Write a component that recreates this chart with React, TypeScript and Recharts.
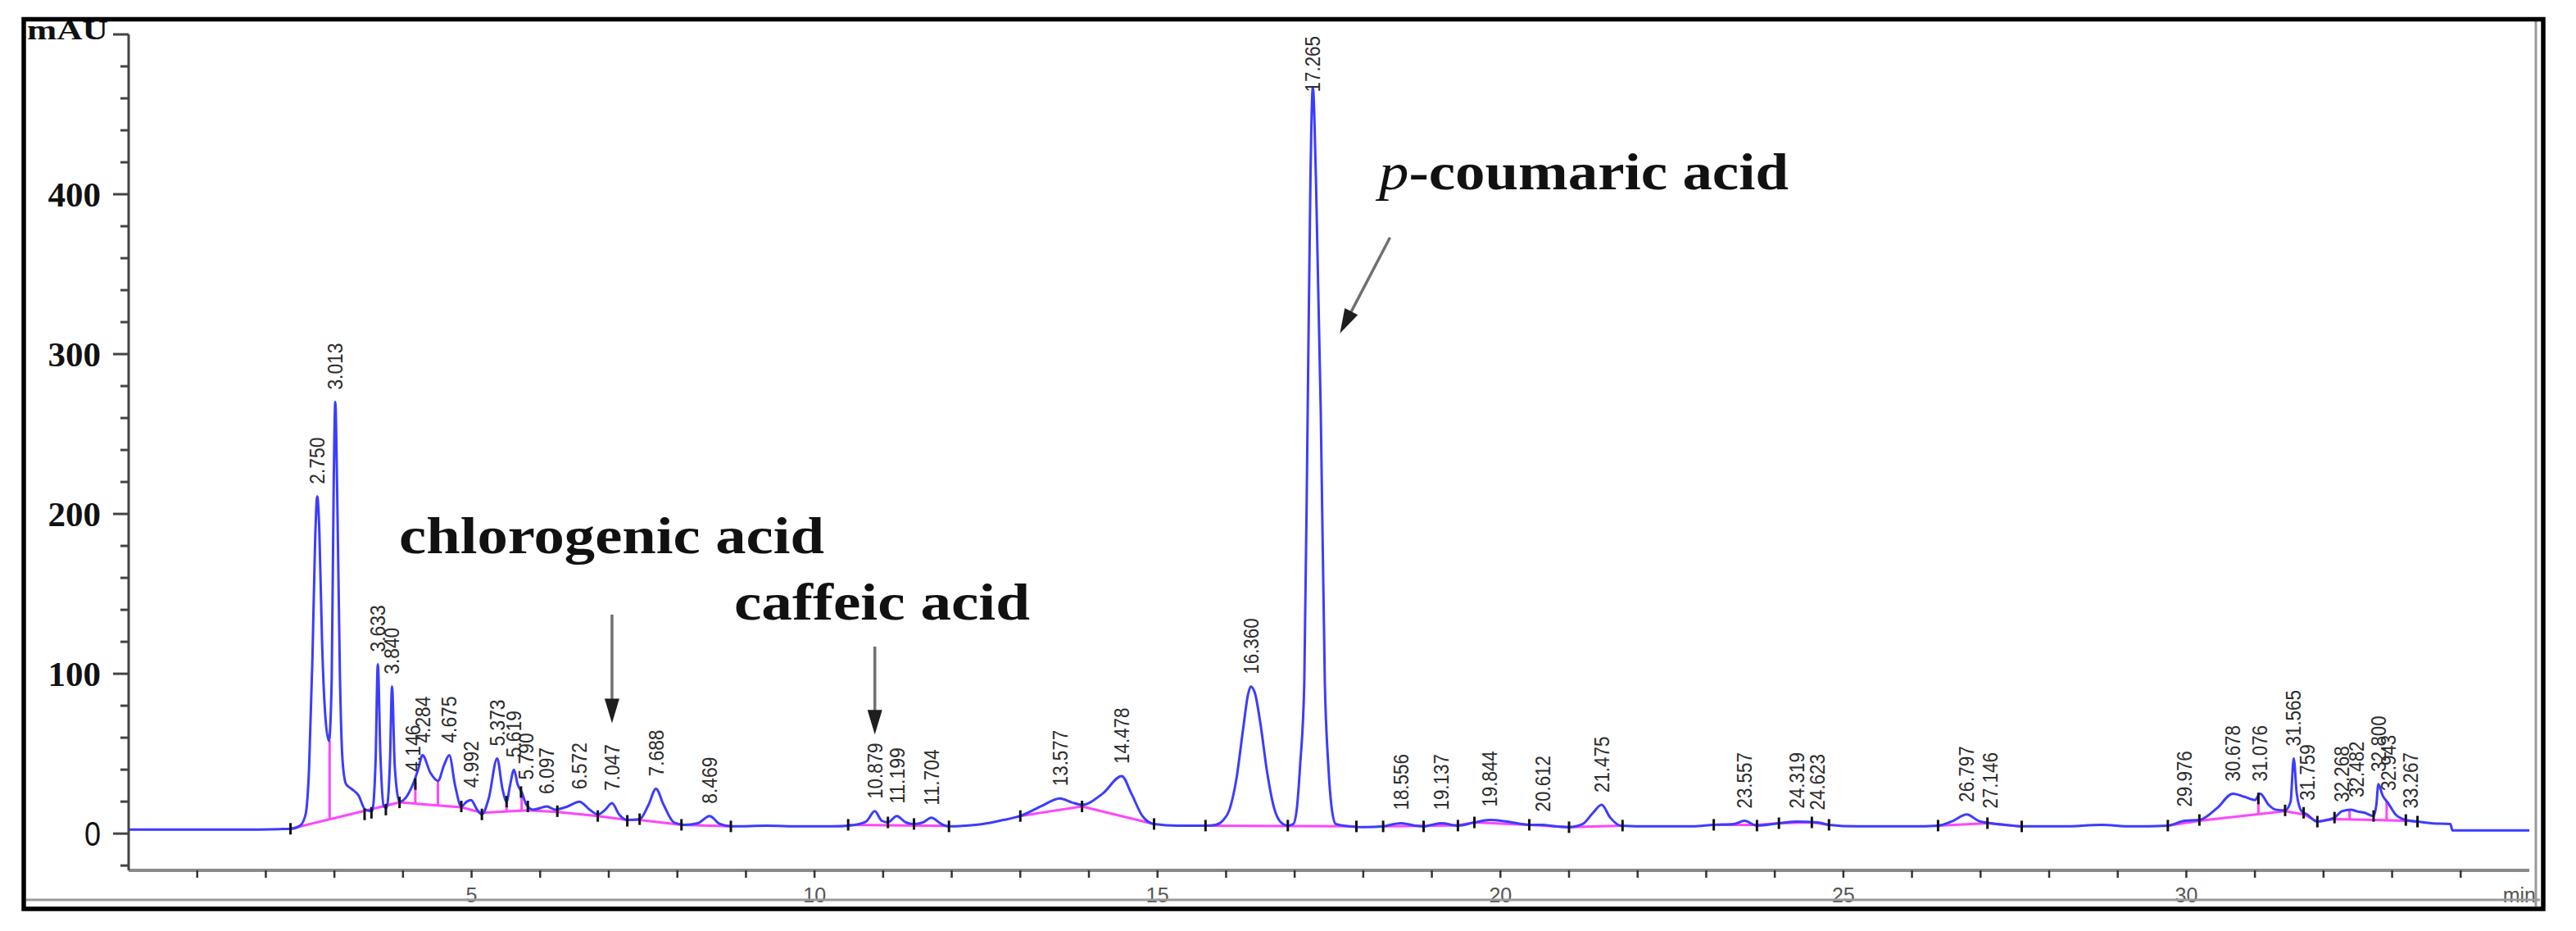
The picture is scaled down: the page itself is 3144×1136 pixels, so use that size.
import React from 'react';
import {
  ComposedChart, Line, Scatter, XAxis, YAxis, ReferenceLine,
} from 'recharts';

// ---- Data (retention time in min, absorbance in mAU) ----
const signalPoints: [number, number][] = [
  [0, 2.5], [0.8, 2.5], [1.6, 2.5], [2.2, 2.8], [2.36, 3], [2.5, 5], [2.58, 12], [2.63, 40], [2.68, 110],
  [2.72, 185], [2.75, 211], [2.78, 190], [2.82, 120], [2.87, 72], [2.92, 58], [2.96, 95], [2.99, 220],
  [3.013, 270], [3.04, 215], [3.08, 100], [3.12, 45], [3.17, 31], [3.25, 28], [3.35, 24], [3.45, 15],
  [3.55, 14], [3.6, 45], [3.633, 106], [3.67, 50], [3.72, 17], [3.76, 16], [3.81, 45], [3.84, 92],
  [3.88, 42], [3.95, 20], [4.05, 23], [4.146, 31], [4.22, 40], [4.284, 49], [4.4, 38], [4.51, 33],
  [4.6, 43], [4.675, 49], [4.76, 30], [4.85, 17], [4.93, 20], [4.992, 21], [5.08, 15], [5.15, 12],
  [5.25, 22], [5.373, 47], [5.45, 28], [5.51, 20], [5.56, 30], [5.619, 40], [5.67, 31], [5.73, 26],
  [5.8, 18], [5.9, 15], [6.0, 16], [6.097, 17], [6.22, 15], [6.4, 17], [6.572, 20], [6.72, 15],
  [6.84, 12], [6.95, 15], [7.047, 19], [7.15, 12], [7.27, 8.5], [7.45, 9], [7.58, 18], [7.688, 28],
  [7.8, 18], [7.95, 7], [8.1, 5.5], [8.3, 6.5], [8.469, 11], [8.62, 6], [8.8, 4.5], [9.3, 5],
  [9.8, 4.5], [10.2, 4.5], [10.5, 5], [10.75, 7.5], [10.879, 14], [10.98, 8], [11.07, 7], [11.199, 11],
  [11.33, 7], [11.45, 6], [11.58, 7], [11.704, 10], [11.85, 6], [11.96, 4.5], [12.2, 5], [12.45, 6],
  [12.75, 8.5], [13.0, 11], [13.3, 17], [13.577, 22], [13.75, 19.5], [13.9, 18], [14.2, 25],
  [14.478, 36], [14.62, 25], [14.78, 11], [14.95, 6], [15.3, 5], [15.7, 5], [15.85, 5.5], [15.95, 8],
  [16.05, 15], [16.15, 34], [16.25, 66], [16.32, 87], [16.36, 92], [16.42, 88], [16.5, 69], [16.6, 38],
  [16.7, 16], [16.8, 7], [16.9, 5], [16.98, 6], [17.03, 15], [17.08, 43], [17.14, 94], [17.19, 265],
  [17.23, 410], [17.265, 467], [17.31, 410], [17.38, 265], [17.44, 94], [17.49, 43], [17.54, 16],
  [17.6, 6], [17.8, 4.5], [18.0, 4], [18.3, 4.5], [18.45, 6], [18.556, 6.5], [18.75, 5], [18.88, 4.5],
  [19.0, 5.5], [19.137, 6.5], [19.38, 5], [19.62, 7], [19.844, 8.5], [20.1, 7.5], [20.42, 5.5],
  [20.612, 5.5], [20.8, 4.5], [21.0, 4], [21.2, 6], [21.35, 13], [21.475, 18], [21.6, 10], [21.75, 5],
  [22.2, 4.5], [22.8, 4.5], [23.11, 5.5], [23.4, 6], [23.557, 8], [23.74, 5], [24.06, 6.5],
  [24.319, 7.5], [24.623, 7], [24.79, 5.5], [25.2, 4.5], [26.0, 4.5], [26.38, 5], [26.6, 8],
  [26.797, 12], [26.97, 8], [27.146, 6.5], [27.35, 5.5], [27.6, 4.5], [28.2, 4.5], [28.76, 5.5],
  [29.2, 4.5], [29.73, 5], [29.976, 8], [30.19, 8.5], [30.45, 16], [30.678, 25], [30.85, 23], [31.0, 21],
  [31.076, 25], [31.2, 18], [31.3, 15], [31.44, 14.5], [31.52, 20], [31.565, 47], [31.61, 25],
  [31.68, 14], [31.759, 12], [31.91, 7.5], [32.05, 8.5], [32.16, 10], [32.268, 14], [32.4, 15],
  [32.482, 14], [32.6, 13], [32.73, 11], [32.77, 18], [32.8, 31], [32.86, 24], [32.943, 19],
  [33.05, 12], [33.2, 8.5], [33.267, 8], [33.37, 7.5], [33.57, 6.5], [33.85, 6], [33.88, 2], [35, 2],
];

const baselineSegments: [number, number][][] = [
  [[2.36, 3], [3.95, 19.5], [4.85, 16.5], [5.15, 13], [5.82, 14.5], [6.25, 13.5], [6.84, 11], [7.27, 8.5], [7.45, 8.5], [8.06, 5.5], [8.78, 4.5]],
  [[10.49, 5.5], [11.96, 4.8]],
  [[13.0, 11], [13.9, 17], [14.95, 6]],
  [[15.7, 5], [17.9, 4.5]],
  [[18.29, 4.5], [18.88, 4.8], [19.38, 5.2], [19.62, 7], [20.42, 5.5], [21.0, 4], [21.78, 5]],
  [[23.11, 5.5], [23.74, 5.5], [24.06, 6.5], [24.54, 7], [24.79, 5.5]],
  [[26.38, 5], [27.1, 6.5], [27.6, 4.5]],
  [[29.73, 5], [30.19, 8], [31.44, 14], [31.71, 12], [31.91, 7.5], [32.16, 9], [32.73, 8.5], [33.2, 8], [33.37, 7.5]],
];

const dropLines: [number, number, number][] = [
  [2.93, 9, 58], [4.18, 19, 32], [4.51, 18, 33], [5.51, 14, 20], [5.73, 14, 26],
  [31.05, 12, 22], [32.38, 8.8, 15], [32.92, 8.3, 20],
];

const integrationTicks: [number, number][] = [
  [2.36, 3], [3.44, 12], [3.54, 13], [3.75, 15], [3.95, 19.5], [4.18, 31], [4.85, 17], [5.15, 12],
  [5.51, 20], [5.72, 26], [5.82, 17], [6.25, 14], [6.84, 11], [7.27, 8], [7.45, 9], [8.06, 5.5],
  [8.78, 4.5], [10.49, 5.5], [11.07, 7], [11.45, 6], [11.96, 4.5], [13.0, 11], [13.9, 17], [14.95, 6],
  [15.7, 5], [16.9, 5], [17.9, 4.5], [18.29, 4.5], [18.88, 4.5], [19.38, 5], [19.62, 7], [20.42, 5.5],
  [21.0, 4], [21.78, 5], [23.11, 5.5], [23.74, 5], [24.06, 6.5], [24.54, 7], [24.79, 5.5], [26.38, 5],
  [27.1, 6.5], [27.6, 4.5], [29.73, 5], [30.19, 8.5], [31.05, 22], [31.44, 14.5], [31.71, 13],
  [31.91, 7.5], [32.16, 10], [32.73, 11], [33.2, 8.5], [33.37, 7.5],
];

const peakLabels: string[] = [
  '2.750', '3.013', '3.633', '3.840', '4.146', '4.284', '4.675', '4.992', '5.373', '5.619', '5.790',
  '6.097', '6.572', '7.047', '7.688', '8.469', '10.879', '11.199', '11.704', '13.577', '14.478',
  '16.360', '17.265', '18.556', '19.137', '19.844', '20.612', '21.475', '23.557', '24.319', '24.623',
  '26.797', '27.146', '29.976', '30.678', '31.076', '31.565', '31.759', '32.268', '32.482', '32.800',
  '32.943', '33.267',
];
const peakHeights: number[] = [
  211, 270, 106, 92, 31, 49, 49, 21, 47, 40, 26,
  17, 20, 19, 28, 11, 14, 11, 10, 22, 36,
  92, 467, 7, 7, 9, 6, 18, 8, 8, 7,
  12, 8, 9, 25, 25, 47, 13, 12, 15, 31,
  19, 8,
];

// arrows: [tStart, vStart, tTip, vTip]
const arrows: [number, number, number, number][] = [
  [7.047, 137, 7.047, 69],
  [10.879, 117, 10.879, 62],
  [18.39, 373, 17.66, 313],
];

const yTicks: number[] = [-20, 0, 20, 40, 60, 80, 100, 120, 140, 160, 180, 200, 220, 240, 260, 280, 300, 320, 340, 360, 380, 400, 420, 440, 460, 480, 500];
const xTicks: number[] = Array.from({ length: 35 }, (_, i) => i + 1);

// ---- Derived tables for the library ----
const signalData = signalPoints.map(([t, v]) => ({ t, v }));
const baselineData: { t: number; v: number | null }[] = [];
baselineSegments.forEach((seg, i) => {
  if (i > 0) baselineData.push({ t: seg[0][0] - 0.001, v: null });
  seg.forEach(([t, v]) => baselineData.push({ t, v }));
});
const tickData = integrationTicks.map(([t, v]) => ({ t, v }));
const peakData = peakLabels.map((label, i) => ({ t: parseFloat(label), v: peakHeights[i], label }));

const BLUE = '#3c3cff';
const MAGENTA = '#ff45ff';

const YTick = (props: any) => {
  const { x, y, payload } = props;
  const v = payload.value;
  const major = v % 100 === 0;
  const len = major ? 19 : 10;
  let label: React.ReactNode = null;
  if (v === 500) {
    label = (
      <text x={x - len - 6} y={y + 6} textAnchor="end" fontFamily="Liberation Serif" fontWeight="bold"
        fontSize={34} fill="#111" textLength={99} lengthAdjust="spacingAndGlyphs">mAU</text>
    );
  } else if (v === 0) {
    label = (
      <text x={x - len - 15} y={y + 15} textAnchor="end" fontFamily="Liberation Sans"
        fontSize={42} fill="#111" textLength={20} lengthAdjust="spacingAndGlyphs">0</text>
    );
  } else if (major && v > 0) {
    label = (
      <text x={x - len - 15} y={y + 15} textAnchor="end" fontFamily="Liberation Serif" fontWeight="bold"
        fontSize={43} fill="#111">{String(v)}</text>
    );
  }
  return (
    <g>
      <line x1={x - len} x2={x} y1={y} y2={y} stroke="#444" strokeWidth={3} />
      {label}
    </g>
  );
};

const XTick = (props: any) => {
  const { x, y, payload } = props;
  const v = payload.value;
  let label: React.ReactNode = null;
  if (v % 5 === 0 && v < 35) {
    label = (
      <text x={x} y={y + 30} textAnchor="middle" dominantBaseline="central" fontFamily="Liberation Sans"
        fontSize={25} fill="#555">{String(v)}</text>
    );
  } else if (v === 35) {
    label = (
      <text x={x + 8} y={y + 30} textAnchor="end" dominantBaseline="central" fontFamily="Liberation Sans"
        fontSize={25} fill="#555">min</text>
    );
  }
  return (
    <g>
      {v < 35 && <line x1={x} x2={x} y1={y} y2={y + 9} stroke="#333" strokeWidth={2.5} />}
      {label}
    </g>
  );
};

const PeakLabel = (props: any) => {
  const { cx, cy, payload } = props;
  if (cx == null || cy == null) return null;
  const n = payload.label.length;
  const len = n * 11.4;
  // keep the label inside the plotting frame (as the integrator software does)
  const yy = Math.max(cy - 15, 44 + len);
  return (
    <text x={cx} y={yy} transform={`rotate(-90 ${cx} ${yy})`} textAnchor="start" dominantBaseline="central"
      fontFamily="Liberation Sans" fontSize={25} fill="#2c2c2c" textLength={len}
      lengthAdjust="spacingAndGlyphs">{payload.label}</text>
  );
};

const TickMark = (props: any) => {
  const { cx, cy } = props;
  if (cx == null || cy == null) return null;
  return <line x1={cx} x2={cx} y1={cy - 7} y2={cy + 7} stroke="#111" strokeWidth={3} />;
};

const ArrowShape = (props: any) => {
  const { x1, y1, x2, y2 } = props;
  const dx = x2 - x1;
  const dy = y2 - y1;
  const L = Math.hypot(dx, dy) || 1;
  const ux = dx / L;
  const uy = dy / L;
  const hl = 30;
  const hw = 9;
  const bx = x2 - ux * hl;
  const by = y2 - uy * hl;
  return (
    <g>
      <line x1={x1} y1={y1} x2={bx + ux * 4} y2={by + uy * 4} stroke="#707070" strokeWidth={3.5} />
      <polygon points={`${x2},${y2} ${bx - uy * hw},${by + ux * hw} ${bx + uy * hw},${by - ux * hw}`} fill="#1e1e1e" />
    </g>
  );
};

export default function App() {
  return (
    <div style={{ position: 'absolute', left: 0, top: 0, width: 3144, height: 1136, background: '#fff' }}>
      <ComposedChart width={3144} height={1136} margin={{ top: 42, right: 57, bottom: 0, left: 0 }}>
        <XAxis type="number" dataKey="t" domain={[0, 35]} ticks={xTicks} interval={0} allowDataOverflow
          height={74} tickSize={0} tickMargin={0} tick={<XTick />} tickLine={false}
          axisLine={{ stroke: '#8a8a8a', strokeWidth: 4 }} />
        <YAxis type="number" domain={[-23, 500]} ticks={yTicks} interval={0} allowDataOverflow
          width={157} tickSize={0} tickMargin={0} tick={<YTick />} tickLine={false}
          axisLine={{ stroke: '#444', strokeWidth: 3 }} />
        <Line data={baselineData} dataKey="v" type="linear" stroke={MAGENTA} strokeWidth={3} dot={false}
          connectNulls={false} isAnimationActive={false} />
        {dropLines.map(([t, lo, hi], i) => (
          <ReferenceLine key={`d${i}`} segment={[{ x: t, y: lo }, { x: t, y: hi }]} stroke={MAGENTA} strokeWidth={3} />
        ))}
        <Line data={signalData} dataKey="v" type="monotone" stroke={BLUE} strokeWidth={3} dot={false}
          isAnimationActive={false} />
        <Scatter data={tickData} dataKey="v" shape={<TickMark />} isAnimationActive={false} />
        <Scatter data={peakData} dataKey="v" shape={<PeakLabel />} isAnimationActive={false} />
        {arrows.map(([t1, v1, t2, v2], i) => (
          <ReferenceLine key={`a${i}`} segment={[{ x: t1, y: v1 }, { x: t2, y: v2 }]} shape={<ArrowShape />} />
        ))}
      </ComposedChart>
      <svg width={3144} height={1136} style={{ position: 'absolute', left: 0, top: 0, pointerEvents: 'none' }}>
        <text x={487} y={675} fontFamily="Liberation Serif" fontWeight="bold" fontSize={64} fill="#111"
          textLength={519} lengthAdjust="spacingAndGlyphs">chlorogenic acid</text>
        <text x={896} y={756} fontFamily="Liberation Serif" fontWeight="bold" fontSize={64} fill="#111"
          textLength={361} lengthAdjust="spacingAndGlyphs">caffeic acid</text>
        <text x={1683} y={231} fontFamily="Liberation Serif" fontWeight="bold" fontSize={64} fill="#111"
          textLength={500} lengthAdjust="spacingAndGlyphs"><tspan fontStyle="italic" fontWeight="normal">p</tspan>-coumaric acid</text>
        <line x1={32} x2={3100} y1={1098} y2={1098} stroke="#9a9a9a" strokeWidth={3} />
        <line x1={3095} x2={3095} y1={26} y2={1106} stroke="#9a9a9a" strokeWidth={3} />
        <rect x={29} y={23.5} width={3075} height={1085.5} fill="none" stroke="#000" strokeWidth={5.5} />
      </svg>
    </div>
  );
}
